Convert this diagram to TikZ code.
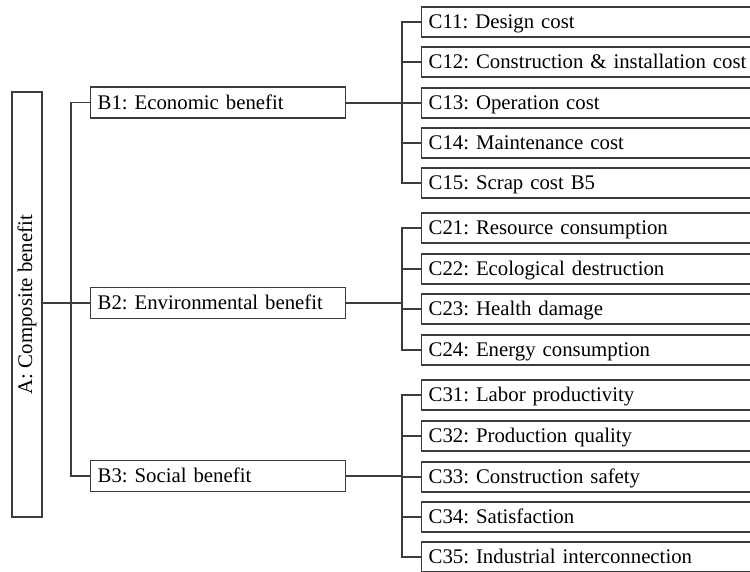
\documentclass[tikz,border=0pt]{standalone}
\usepackage{fontspec}
\setmainfont{Liberation Serif}
\frenchspacing
\definecolor{linegray}{HTML}{3C3C3C}

\begin{document}
\begin{tikzpicture}[x=1pt,y=-1pt,
  box/.style={draw=linegray,line width=1.3pt,rectangle,inner xsep=7pt,inner ysep=0pt,
    font=\fontsize{20.8}{24}\selectfont,text height=14pt,text depth=1pt,align=left},
  bbox/.style={box,text width=241pt,minimum height=31pt,anchor=west},
  cbox/.style={box,text width=326pt,minimum height=30pt,anchor=west},
  conn/.style={draw=linegray,line width=1.3pt},
  bline/.style={draw=linegray,line width=2pt}]
\useasboundingbox (0,0) rectangle (750,571);
\clip (0,0) rectangle (750,571);

% top level
\node [draw=linegray,line width=1.3pt,minimum width=30pt,minimum height=425pt,inner sep=0pt,
  font=\fontsize{20.8}{24}\selectfont] (a) at (27,304.5) {\rotatebox{90}{A: Composite benefit}};

% criteria
\node [bbox] (b1) at (90,102.5) {B1: Economic benefit};
\node [bbox] (b2) at (90,303) {B2: Environmental benefit};
\node [bbox] (b3) at (90,476) {B3: Social benefit};

% sub-criteria
\node [cbox] (c11) at (421,22)  {C11: Design cost};
\node [cbox] (c12) at (421,62)  {C12: Construction \& installation cost};
\node [cbox] (c13) at (421,103) {C13: Operation cost};
\node [cbox] (c14) at (421,143) {C14: Maintenance cost};
\node [cbox] (c15) at (421,183) {C15: Scrap cost B5};
\node [cbox] (c21) at (421,228) {C21: Resource consumption};
\node [cbox] (c22) at (421,269) {C22: Ecological destruction};
\node [cbox] (c23) at (421,309) {C23: Health damage};
\node [cbox] (c24) at (421,350) {C24: Energy consumption};
\node [cbox] (c31) at (421,395) {C31: Labor productivity};
\node [cbox] (c32) at (421,436) {C32: Production quality};
\node [cbox] (c33) at (421,477) {C33: Construction safety};
\node [cbox] (c34) at (421,517) {C34: Satisfaction};
\node [cbox] (c35) at (421,557) {C35: Industrial interconnection};

% junctions
\coordinate (t)  at (71,303);
\coordinate (j1) at (402,102.5);
\coordinate (j2) at (402,303);
\coordinate (j3) at (402,476);

% A to B
\draw [conn] (a.east |- t) -- (t);
\draw [conn] (b1.west) -| (t) |- (b3.west);
\draw [conn] (t) -- (b2.west);

% B1 to C1x
\draw [bline] (b1.east) -- (j1);
\draw [conn] (c11.west) -| (j1) |- (c15.west);
\draw [conn] (c12.west) -- (c12.west -| j1);
\draw [conn] (c13.west) -- (c13.west -| j1);
\draw [conn] (c14.west) -- (c14.west -| j1);

% B2 to C2x
\draw [bline] (b2.east) -- (j2);
\draw [conn] (c21.west) -| (j2) |- (c24.west);
\draw [conn] (c22.west) -- (c22.west -| j2);
\draw [conn] (c23.west) -- (c23.west -| j2);

% B3 to C3x
\draw [bline] (b3.east) -- (j3);
\draw [conn] (c31.west) -| (j3) |- (c35.west);
\draw [conn] (c32.west) -- (c32.west -| j3);
\draw [conn] (c33.west) -- (c33.west -| j3);
\draw [conn] (c34.west) -- (c34.west -| j3);
\end{tikzpicture}
\end{document}
